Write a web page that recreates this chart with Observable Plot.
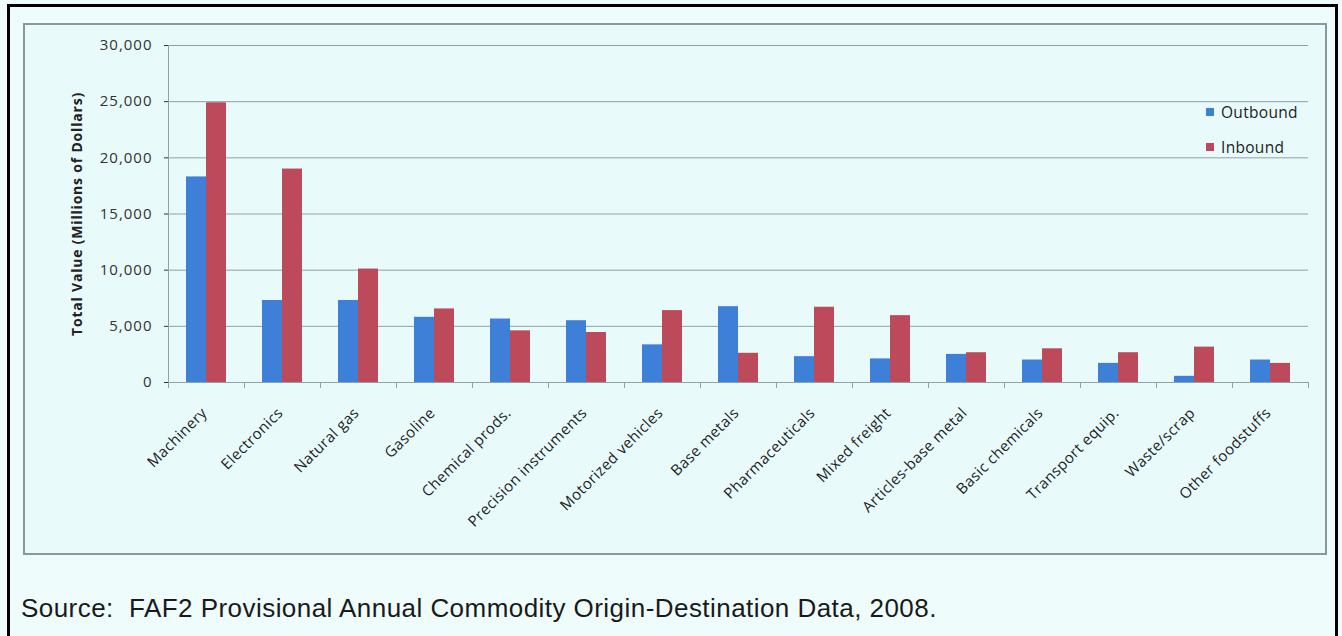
<!DOCTYPE html>
<html><head><meta charset="utf-8">
<script src="https://cdn.jsdelivr.net/npm/d3@7"></script>
<script src="https://cdn.jsdelivr.net/npm/@observablehq/plot@0.6"></script>
<style>
html,body{margin:0;padding:0;}
body{background:#eefcfc;width:1342px;height:636px;overflow:hidden;position:relative;font-family:"Open Sans",sans-serif;}
#outer{position:absolute;left:7px;top:4px;width:1331px;height:640px;border:3px solid #000;box-sizing:border-box;}
#frame{position:absolute;left:23px;top:23px;width:1304px;height:532px;border:2px solid #8a979c;box-sizing:border-box;background:#e8fafa;}
#chart{position:absolute;left:25px;top:25px;}
#chart g[aria-label="y-axis tick label"] text{letter-spacing:1px;}
#chart g[aria-label="fx-axis tick label"] text{letter-spacing:0.4px;}
#chart g[aria-label="text"] text{letter-spacing:0.8px;}
#legend{position:absolute;left:1206px;top:101px;font-size:15.5px;letter-spacing:0.3px;color:#222;}
#legend .item{display:flex;align-items:center;height:22px;margin-bottom:13px;}
#legend .sw{display:inline-block;width:8px;height:8px;margin-right:7px;}
#caption{position:absolute;left:21px;top:593px;line-height:30px;font-family:"Liberation Sans",Arial,sans-serif;font-size:26px;letter-spacing:0.45px;color:#1a1a1a;white-space:nowrap;}
</style>
</head><body>
<div id="outer"></div>
<div id="frame"></div>
<div id="chart"></div>
<div id="legend"></div>
<div id="caption">Source:&nbsp; FAF2 Provisional Annual Commodity Origin-Destination Data, 2008.</div>
<script>
const categories = ["Machinery", "Electronics", "Natural gas", "Gasoline", "Chemical prods.", "Precision instruments", "Motorized vehicles", "Base metals", "Pharmaceuticals", "Mixed freight", "Articles-base metal", "Basic chemicals", "Transport equip.", "Waste/scrap", "Other foodstuffs"];
const outbound = [18300, 7300, 7300, 5800, 5650, 5500, 3350, 6750, 2300, 2100, 2500, 2000, 1700, 550, 2000];
const inbound = [24900, 19000, 10100, 6550, 4600, 4450, 6400, 2600, 6700, 5950, 2650, 3000, 2650, 3150, 1700];
const series = ["Outbound", "Inbound"];
const colors = ["#3e7fd7", "#bc4a5a"];
const yTicks = [0, 5000, 10000, 15000, 20000, 25000, 30000];
const yLabel = "Total Value (Millions of Dollars)";

const rows = [];
categories.forEach((c, i) => {
  rows.push({category: c, series: series[0], value: outbound[i]});
  rows.push({category: c, series: series[1], value: inbound[i]});
});

const gridColor = "#8fa2a8";
const W = 1300, H = 528, MT = 20, MB = 171, ML = 141, MR = 15;
const plotH = H - MT - MB;

const chart = Plot.plot({
  width: W, height: H,
  marginLeft: ML, marginTop: MT, marginRight: MR, marginBottom: MB,
  style: {background: "transparent", fontFamily: "'Open Sans', sans-serif", color: "#333", overflow: "visible"},
  fx: {domain: categories, padding: 0, label: null},
  x: {domain: series, paddingInner: 0, paddingOuter: 0.82, axis: null},
  y: {domain: [0, 30000], axis: null},
  color: {domain: series, range: colors},
  marks: [
    Plot.gridY(yTicks, {stroke: gridColor, strokeOpacity: 1, strokeWidth: 1}),
    Plot.barY(rows, {fx: "category", x: "series", y: "value", fill: "series"}),
    Plot.ruleY([0], {stroke: gridColor, strokeWidth: 1.2}),
    Plot.frame({anchor: "left", stroke: gridColor, insetTop: plotH, insetBottom: -5}),
    Plot.frame({anchor: "right", stroke: gridColor, insetTop: plotH, insetBottom: -5, facetAnchor: "right"}),
    Plot.frame({anchor: "left", stroke: gridColor, facetAnchor: "left"}),
    Plot.axisY(yTicks, {tickFormat: d3.format(","), tickSize: 4, tickPadding: 12, fontSize: 15, label: null, color: "#333", facetAnchor: "left"}),
    Plot.axisFx({anchor: "bottom", tickRotate: -45, tickSize: 0, tickPadding: 28, dx: -2, fontSize: 15, label: null, color: "#222"}),
    Plot.text([yLabel], {fx: () => categories[0], frameAnchor: "left", textAnchor: "middle", rotate: -90, dx: -91, fontWeight: "bold", fontSize: 14, fill: "#222"})
  ]
});
document.getElementById("chart").appendChild(chart);

const legend = document.getElementById("legend");
series.forEach((s, i) => {
  const item = document.createElement("div");
  item.className = "item";
  const sw = document.createElement("span");
  sw.className = "sw";
  sw.style.background = colors[i];
  item.appendChild(sw);
  item.appendChild(document.createTextNode(s));
  legend.appendChild(item);
});
</script>
</body></html>
